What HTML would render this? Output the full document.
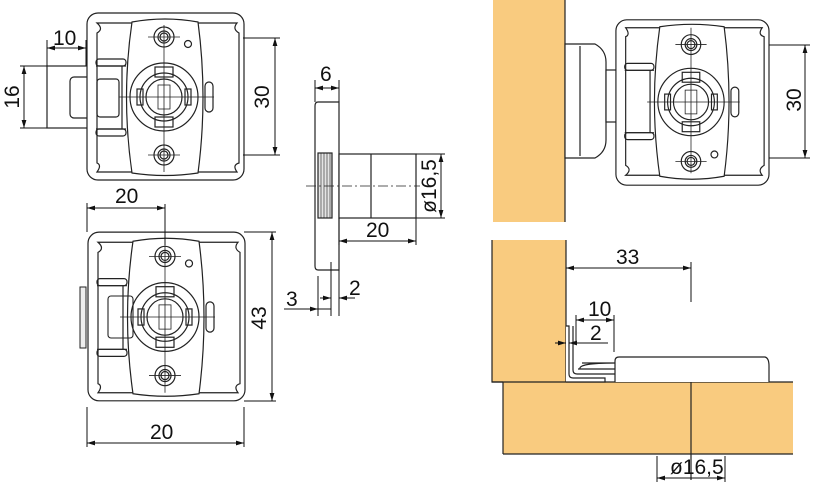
<!DOCTYPE html>
<html><head><meta charset="utf-8"><style>
html,body{margin:0;padding:0;background:#fff;width:818px;height:502px;overflow:hidden}
svg{display:block}
text{font-family:"Liberation Sans",sans-serif;font-size:21px;fill:#111}
</style></head><body>
<svg width="818" height="502" viewBox="0 0 818 502" xmlns="http://www.w3.org/2000/svg">
<defs>
<marker id="a" viewBox="0 0 10 6" refX="10" refY="3" markerWidth="8" markerHeight="5" orient="auto-start-reverse"><path d="M0,0 L10,3 L0,6 z" fill="#111"/></marker>
<g id="lock" fill="none" stroke="#222" stroke-width="1.2">
  <rect x="-77" y="-84" width="157" height="167" rx="11" fill="#fff"/>
  <path d="M-67,-74 L73,-74 Q68,-68 75,-64 L75,66 Q68,68 73,75 L-67,75 Q-62,68 -67,66 L-67,-64 Q-60,-68 -67,-74 z"/>
  <path d="M-32,-75 Q1,-81 34,-75 Q44,0 34,76 Q1,81 -32,76 Q-43,0 -32,-75 z" fill="#fff"/>
  <circle cx="0" cy="-60" r="10"/><circle cx="0" cy="-60" r="6"/><circle cx="0" cy="-60" r="4"/>
  <circle cx="0" cy="58" r="10"/><circle cx="0" cy="58" r="6"/><circle cx="0" cy="58" r="4"/>
  <circle cx="24" cy="-53" r="3.5"/>
  <circle cx="0" cy="0" r="34"/>
  <circle cx="0" cy="0" r="24"/><circle cx="0" cy="0" r="18"/>
  <rect x="-9" y="-30" width="18" height="10"/><rect x="-9" y="20" width="18" height="10"/>
  <rect x="-27" y="-8" width="6" height="16"/><rect x="21" y="-8" width="6" height="16"/>
  <rect x="-6" y="-12" width="12" height="24" stroke-width="0.8"/>
  <rect x="41" y="-15" width="8" height="30" rx="4"/>
  <rect x="-68" y="-38" width="30" height="7" rx="3"/>
  <rect x="-68" y="32" width="30" height="7" rx="3"/>
  <path d="M-68,-31 h30 M-68,32 h30 M-42,-31 v63"/>
  <line x1="-45" y1="0" x2="50" y2="0" stroke-width="0.8"/>
  <line x1="0" y1="-72" x2="0" y2="75" stroke-width="0.8"/>
  <line x1="-16" y1="-60" x2="16" y2="-60" stroke-width="0.8"/>
  <line x1="-16" y1="58" x2="16" y2="58" stroke-width="0.8"/>
</g>
</defs>

<!-- Top-left lock with extended bolt -->
<g fill="none" stroke="#222" stroke-width="1.2">
  <rect x="47" y="66" width="50" height="62" fill="#fff"/>
  <rect x="70" y="77" width="48" height="41" rx="4"/>
</g>
<use href="#lock" transform="translate(164,97)"/>
<g fill="none" stroke="#222" stroke-width="1.2">
  <rect x="97" y="79" width="22" height="38" rx="3"/>
</g>

<!-- Bottom-left lock -->
<use href="#lock" transform="translate(165,317) scale(1,1.01)"/>
<rect x="80" y="287" width="6" height="61" fill="#eee" stroke="#222" stroke-width="1"/>
<rect x="108" y="296" width="25" height="42" rx="3" fill="none" stroke="#222" stroke-width="1.1"/>

<!-- Dimensions left -->
<g stroke="#111" stroke-width="1" fill="none">
  <line x1="47" y1="40" x2="47" y2="66"/><line x1="86" y1="40" x2="86" y2="66"/>
  <line x1="47" y1="48" x2="86" y2="48" marker-start="url(#a)" marker-end="url(#a)"/>
  <line x1="20" y1="66" x2="47" y2="66"/><line x1="20" y1="128" x2="47" y2="128"/>
  <line x1="24" y1="66" x2="24" y2="128" marker-start="url(#a)" marker-end="url(#a)"/>
  <line x1="243" y1="38" x2="280" y2="38"/><line x1="243" y1="155" x2="280" y2="155"/>
  <line x1="275" y1="38" x2="275" y2="155" marker-start="url(#a)" marker-end="url(#a)"/>
  <line x1="87" y1="203" x2="87" y2="232"/>
  <line x1="165" y1="204" x2="165" y2="245"/>
  <line x1="87" y1="208" x2="165" y2="208" marker-start="url(#a)" marker-end="url(#a)"/>
  <line x1="244" y1="232" x2="276" y2="232"/><line x1="244" y1="401" x2="276" y2="401"/>
  <line x1="272" y1="232" x2="272" y2="401" marker-start="url(#a)" marker-end="url(#a)"/>
  <line x1="87" y1="407" x2="87" y2="447"/><line x1="244" y1="407" x2="244" y2="447"/>
  <line x1="87" y1="443" x2="244" y2="443" marker-start="url(#a)" marker-end="url(#a)"/>
</g>
<text x="53" y="45">10</text>
<text transform="translate(19,97) rotate(-90)" text-anchor="middle">16</text>
<text transform="translate(269,97) rotate(-90)" text-anchor="middle">30</text>
<text x="115" y="203">20</text>
<text transform="translate(266,318) rotate(-90)" text-anchor="middle">43</text>
<text x="150" y="439">20</text>

<!-- Side view -->
<g stroke="#222" stroke-width="1.2" fill="#fff">
  <path d="M318,102 L339,102 L339,270 L318,270 Q315,270 315,266 L315,106 Q315,102 318,102 z"/>
  <rect x="318" y="153" width="14" height="65" fill="#e4e4e4"/>
  <path d="M321,153 v65 M324,153 v65 M327,153 v65 M330,153 v65" stroke-width="0.6"/>
  <rect x="339" y="154" width="77" height="64"/>
  <line x1="371" y1="154" x2="371" y2="218"/>
  <line x1="306" y1="186" x2="420" y2="186" stroke-width="0.8" stroke-dasharray="10,3,2,3"/>
</g>
<g stroke="#111" stroke-width="1" fill="none">
  <line x1="315" y1="80" x2="315" y2="102"/><line x1="339" y1="80" x2="339" y2="102"/>
  <line x1="315" y1="88" x2="339" y2="88" marker-start="url(#a)" marker-end="url(#a)"/>
  <line x1="416" y1="154" x2="445" y2="154"/><line x1="416" y1="218" x2="445" y2="218"/>
  <line x1="441" y1="154" x2="441" y2="218" marker-start="url(#a)" marker-end="url(#a)"/>
  <line x1="339" y1="218" x2="339" y2="245"/><line x1="416" y1="218" x2="416" y2="245"/>
  <line x1="339" y1="241" x2="416" y2="241" marker-start="url(#a)" marker-end="url(#a)"/>
  <line x1="318" y1="276" x2="318" y2="316"/><line x1="331" y1="262" x2="331" y2="316"/><line x1="339" y1="270" x2="339" y2="316"/>
  <line x1="284" y1="309" x2="318" y2="309" marker-end="url(#a)"/>
  <line x1="318" y1="309" x2="331" y2="309"/>
  <line x1="355" y1="298" x2="339" y2="298" marker-end="url(#a)"/>
  <line x1="320" y1="298" x2="331" y2="298" marker-end="url(#a)"/>
</g>
<text x="320" y="81">6</text>
<text transform="translate(436,186) rotate(-90)" text-anchor="middle">ø16,5</text>
<text x="366" y="237">20</text>
<text x="286" y="306">3</text>
<text x="349" y="295">2</text>

<!-- Right top -->
<rect x="493" y="0" width="72" height="222" fill="#F9CB7F"/>
<line x1="565" y1="0" x2="565" y2="222" stroke="#222" stroke-width="1.2"/>
<g stroke="#222" stroke-width="1.2" fill="#fff">
  <path d="M565,44 L595,44 Q606,50 606,62 L606,140 Q606,152 595,158 L565,158 z"/>
  <line x1="580" y1="46" x2="580" y2="156"/>
  <rect x="606" y="70" width="12" height="52"/>
</g>
<use href="#lock" transform="translate(691,102) scale(0.975,-0.99)"/>
<g stroke="#111" stroke-width="1" fill="none">
  <line x1="769" y1="45" x2="810" y2="45"/><line x1="769" y1="158" x2="810" y2="158"/>
  <line x1="805" y1="45" x2="805" y2="158" marker-start="url(#a)" marker-end="url(#a)"/>
</g>
<text transform="translate(801,100) rotate(-90)" text-anchor="middle">30</text>

<!-- Right bottom -->
<rect x="492" y="240" width="74" height="142" fill="#F9CB7F"/>
<rect x="503" y="382" width="290" height="72" fill="#F9CB7F"/>
<g stroke="#222" stroke-width="1.2" fill="none">
  <path d="M492,240 L492,382 L503,382"/>
  <line x1="566" y1="240" x2="566" y2="382"/>
  <line x1="492" y1="382" x2="793" y2="382"/>
  <line x1="503" y1="454" x2="793" y2="454"/>
  <line x1="503" y1="382" x2="503" y2="454"/>
  <line x1="691" y1="382" x2="691" y2="480"/>
  <path d="M615,382 L615,361 Q615,357 619,357 L765,357 Q769,358 769,366 L769,382" fill="#fff"/>
  <path d="M566,326 L569,326 L569,374 Q569,378 573,378 L605,378 L605,382 L566,382" fill="#fff"/>
  <path d="M573,326 L573,370 Q573,374 577,374 L615,374" />
  <path d="M578,369 L615,369 M582,363 L615,363 Q578,363 580,369"/>
</g>
<g stroke="#111" stroke-width="1" fill="none">
  <line x1="566" y1="268" x2="691" y2="268" marker-start="url(#a)" marker-end="url(#a)"/>
  <line x1="691" y1="262" x2="691" y2="302"/>
  <line x1="576" y1="315" x2="576" y2="345"/><line x1="614" y1="315" x2="614" y2="352"/>
  <line x1="576" y1="320" x2="614" y2="320" marker-start="url(#a)" marker-end="url(#a)"/>
  <line x1="555" y1="343" x2="566" y2="343" marker-end="url(#a)"/>
  <line x1="608" y1="343" x2="569" y2="343" marker-end="url(#a)"/>
  <line x1="657" y1="456" x2="657" y2="482"/><line x1="725" y1="456" x2="725" y2="482"/>
  <line x1="657" y1="478" x2="725" y2="478" marker-start="url(#a)" marker-end="url(#a)"/>
</g>
<text x="616" y="264">33</text>
<text x="588" y="316">10</text>
<text x="590" y="340">2</text>
<text x="670" y="474">ø16,5</text>
</svg>
</body></html>
